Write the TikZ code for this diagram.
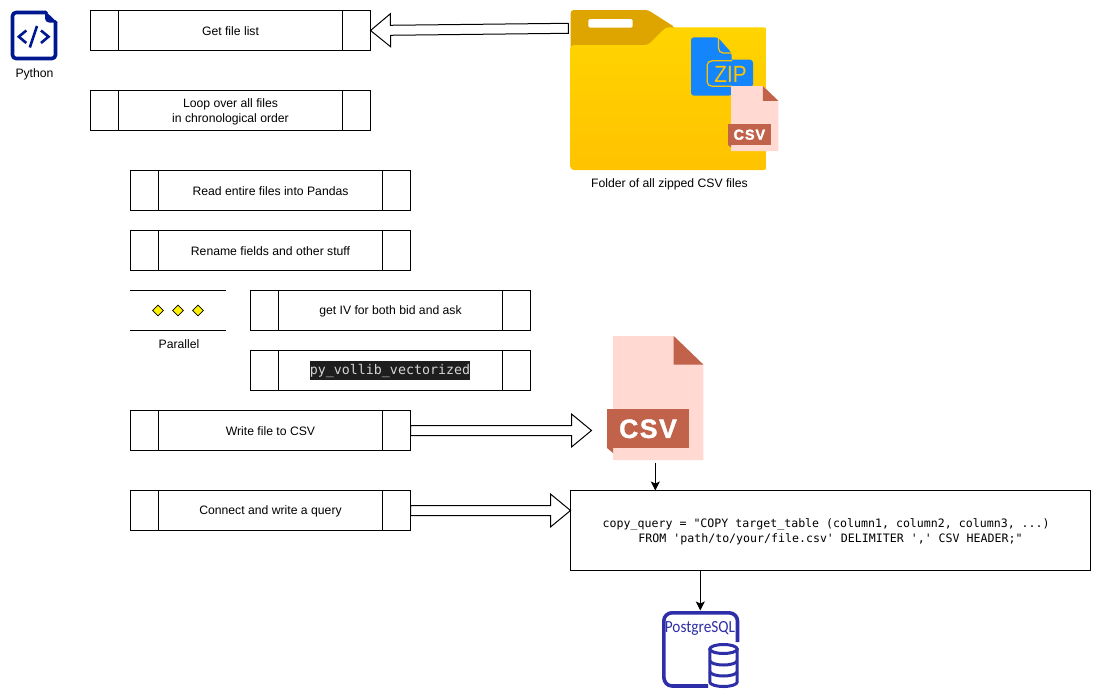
\documentclass[tikz,border=0pt]{standalone}
\usepackage{fontspec}
\usepackage{graphicx}
\setmainfont{Liberation Sans}
\newfontfamily\codefont{DejaVu Sans Mono}
\newfontfamily\badgefont{Liberation Sans}[LetterSpace=6,BoldFeatures={FakeBold=1.5}]
\newfontfamily\pgfont{Carlito}
\usetikzlibrary{calc,arrows.meta,shapes.geometric}
\definecolor{pyblue}{HTML}{00188F}
\definecolor{pgblue}{HTML}{2E2FA8}
\definecolor{tabgold}{HTML}{DEA500}
\definecolor{folderA}{HTML}{FFD400}
\definecolor{folderB}{HTML}{FFC300}
\definecolor{zipblue}{HTML}{1585FB}
\definecolor{csvpage}{HTML}{FFD9D2}
\definecolor{csvdark}{HTML}{C1634A}
\definecolor{codebg}{HTML}{1E1E1E}
\definecolor{codefg}{HTML}{D4D4D4}
\newcommand\dn[1]{\raisebox{-1pt}[\height][\depth]{#1}}
\tikzset{
  px/.style={font=\fontsize{12.2}{15}\selectfont},
  procbox/.style={draw=black,line width=1pt,outer sep=0pt,inner sep=0pt,minimum width=280pt,minimum height=40pt,px,align=center,
    path picture={
      \draw[line width=1pt] ([xshift=28pt]path picture bounding box.north west) -- ([xshift=28pt]path picture bounding box.south west);
      \draw[line width=1pt] ([xshift=-28pt]path picture bounding box.north east) -- ([xshift=-28pt]path picture bounding box.south east);
    }},
  caption/.style={px,inner sep=0pt,align=center},
  blockarrow/.style={draw=black,fill=white,line width=1pt,miter limit=10},
  thinarrow/.style={draw=black,line width=1pt,-{Stealth[length=9pt,width=9pt,inset=2pt]},shorten >=0pt},
  dot/.style={diamond,draw=black,fill=yellow,line width=.8pt,inner sep=0pt,minimum size=11pt},
  iconline/.style={line width=3.6pt,line cap=round,line join=round},
}
\newcommand\blockarrow[2]{%
  \coordinate (hb) at ($(#2)!20pt!(#1)$);
  \draw[blockarrow] ($(#1)!5pt!90:(#2)$) -- ($(hb)!5pt!90:(#2)$) -- ($(hb)!16.5pt!90:(#2)$) -- (#2)
    -- ($(hb)!16.5pt!-90:(#2)$) -- ($(hb)!5pt!-90:(#2)$) -- ($(#1)!5pt!-90:(#2)$) -- cycle;
}
% x y scale fontsize: page top-left at (x,y), drawn for the 90x124 page
\newcommand\csvicon[5]{%
  \begin{scope}[shift={(#1,#2)},x=#3pt,y=-#3pt]
    \fill[csvpage] (0,0) -- (60.7,0) -- (90.3,29) -- (90.3,124) -- (0,124) -- cycle;
    \fill[csvdark] (60.7,0) -- (90.3,28.5) -- (60.7,28.5) -- cycle;
    \fill[csvdark] (-6.5,72.5) rectangle (76,111.5);
    \fill[csvdark] (-6.5,111.5) -- (0,111.5) -- (0,117) -- cycle;
    \node[text=white,inner sep=0pt] (#5) at (35,92.8) {\fontsize{#4}{#4}\badgefont\bfseries CSV};
  \end{scope}
}
\begin{document}
\begin{tikzpicture}[x=1pt,y=-1pt]
\useasboundingbox[fill=white] (0,0) rectangle (1101,699);

% Python file icon
\draw[pyblue,iconline] (46,12.5) -- (16,12.5) to[out=180,in=90] (12.5,16) -- (12.5,55) to[out=-90,in=180] (16,58.5) -- (52,58.5) to[out=0,in=-90] (55.5,55) -- (55.5,22);
\fill[pyblue] (45,10.7) -- (57.3,22.5) -- (49,22.5) to[out=180,in=-90] (45,18.5) -- cycle;
\draw[pyblue,line width=2.6pt,line join=miter] (26.3,30.5) -- (18.8,36.7) -- (26.3,43);
\draw[pyblue,line width=2.6pt,line join=miter] (41,30.5) -- (48.5,36.7) -- (41,43);
\draw[pyblue,line width=2.6pt] (37,26) -- (29.8,47.5);
\node[caption] (pylabel) at (34.5,74.5) {Python};

% Process boxes
\node[procbox] (getfiles) at (230.5,30.5) {\dn{Get file list}};
\node[procbox] (loop) at (230.5,110.5) {\dn{Loop over all files}\\\dn{in chronological order}};
\node[procbox] (read) at (270.5,190.5) {\dn{Read entire files into Pandas}};
\node[procbox] (rename) at (270.5,250.5) {\dn{Rename fields and other stuff}};
\node[procbox] (getiv) at (390.5,310.5) {\dn{get IV for both bid and ask}};
\node[procbox] (vollib) at (390.5,370.5) {};
\fill[codebg] (310,361) rectangle (470,380);
\node[inner sep=0pt,text=codefg] (vollibtext) at (390,370.5) {\fontsize{13.3}{15}\codefont py\_vollib\_vectorized};
\node[procbox] (writecsv) at (270.5,430.5) {\dn{Write file to CSV}};
\node[procbox] (connect) at (270.5,510.5) {\dn{Connect and write a query}};

% Parallel marker
\coordinate (parA) at (130,290.5);
\coordinate (parB) at (226,290.5);
\coordinate (parC) at (130,330.5);
\coordinate (parD) at (226,330.5);
\draw[line width=1pt] (parA) -- (parB);
\draw[line width=1pt] (parC) -- (parD);
\node[dot] (d1) at (158,310.5) {};
\node[dot] (d2) at (178,310.5) {};
\node[dot] (d3) at (198,310.5) {};
\node[caption] (parlabel) at (179,344.5) {Parallel};

% Folder
\fill[tabgold,rounded corners=3pt] (570.7,60) -- (570.7,10) -- (648,10) -- (675,27.3) -- (675,60) -- cycle;
\fill[white,rounded corners=1.5pt] (588.3,19) rectangle (632.7,27.7);
\shade[top color=folderA,bottom color=folderB,rounded corners=3pt] (570.7,45) -- (648,45) -- (666,27.3) -- (766.7,27.3) -- (766.7,170) -- (570.7,170) -- cycle;

% Zip badge
\fill[zipblue,rounded corners=3pt] (691,37.3) -- (717.7,37.3) -- (731.7,53) -- (731.7,95.7) -- (691,95.7) -- cycle;
\draw[folderB,line width=1.2pt] (718.5,38) -- (718.5,48) to[out=-90,in=180] (723,53) -- (732,53);
\fill[zipblue,rounded corners=3pt] (706,59.7) rectangle (753,87.3);
\draw[folderB,line width=1.2pt] (732,60.8) -- (712,60.8) to[out=180,in=90] (707.2,65) -- (707.2,82) to[out=-90,in=180] (712,86.2) -- (732,86.2);
\node[inner sep=0pt,text=folderB] (ziptext) at (730.5,74) {\scalebox{.88}[1]{\fontsize{23.5}{23.5}\selectfont ZIP}};

% Small CSV icon
\csvicon{731}{86}{0.525}{14.5}{smallcsvtext}
\node[caption] (foldercap) at (669.5,184.5) {Folder of all zipped CSV files};

% Large CSV icon
\csvicon{613}{336}{1}{26.5}{bigcsvtext}
\coordinate (csvout) at (655.3,462.5);
\coordinate (csvin) at (591.5,430.5);

% Query box
\node[draw=black,line width=1pt,outer sep=0pt,inner sep=0pt,minimum width=520pt,minimum height=80pt,align=center,
  font=\fontsize{11.6}{15}\codefont] (query) at (830.5,530.5)
  {\dn{copy\_query = "COPY target\_table (column1, column2, column3, ...)}\hspace*{8.6pt}\\\dn{FROM 'path/to/your/file.csv' DELIMITER ',' CSV HEADER;"}};

% PostgreSQL icon
\draw[pgblue,iconline,line cap=butt] (737.5,642) -- (737.5,621) to[out=90,in=0] (729,612.8) -- (672,612.8) to[out=180,in=90] (663.8,621) -- (663.8,677) to[out=-90,in=180] (672,686) -- (708,686);
\node[inner sep=0pt,text=pgblue] (pgtext) at (700,628.5) {\scalebox{.9}[1]{\fontsize{17}{17}\pgfont PostgreSQL}};
\begin{scope}[pgblue,line width=3pt]
  \draw[fill=white] (709.8,649) arc[start angle=180,end angle=360,x radius=13.7,y radius=4.5] arc[start angle=0,end angle=180,x radius=13.7,y radius=4.5] -- cycle;
  \draw (709.8,649) -- (709.8,682) arc[start angle=180,end angle=0,x radius=13.7,y radius=4.5] -- (737.2,649);
  \draw (709.8,660.5) arc[start angle=180,end angle=0,x radius=13.7,y radius=4.5];
  \draw (709.8,671.5) arc[start angle=180,end angle=0,x radius=13.7,y radius=4.5];
\end{scope}

% Connectors
\coordinate (folderout) at (568.3,28.3);
\blockarrow{folderout}{getfiles.east}
\blockarrow{writecsv.east}{csvin}
\coordinate (queryin) at (query.west |- connect.east);
\blockarrow{connect.east}{queryin}
\draw[thinarrow] (csvout) -- (csvout |- query.north);
\coordinate (queryout) at (700.3,570.5);
\coordinate (pgin) at (700.3,610.5);
\draw[thinarrow] (queryout) -- (pgin);
\end{tikzpicture}
\end{document}
